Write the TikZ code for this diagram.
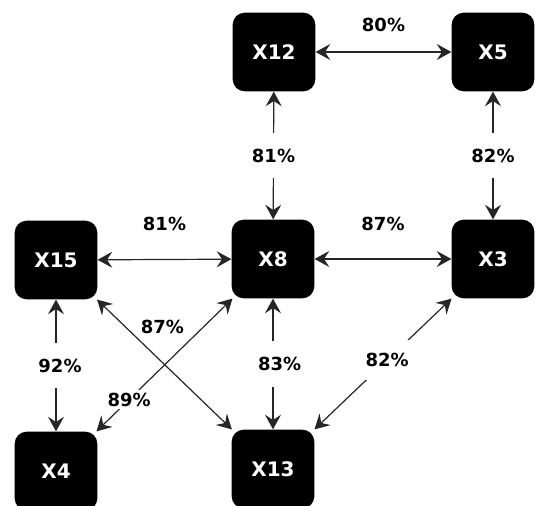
\documentclass[tikz,border=0pt]{standalone}
\usepackage{fontspec}
\setmainfont{DejaVu Sans}
\usetikzlibrary{arrows.meta}
\tikzset{
  knoten/.style={fill=black, rounded corners=9pt, minimum width=62pt, minimum height=59pt,
    text=white, font=\bfseries\fontsize{15}{15}\selectfont},
  wert/.style={font=\bfseries\fontsize{13.5}{13.5}\selectfont, inner sep=2pt},
  pfeil/.style={{Stealth[length=11pt,width=12pt,inset=4pt]}-{Stealth[length=11pt,width=12pt,inset=4pt]}, line width=0.9pt, draw=black!85}
}
\begin{document}
\begin{tikzpicture}[x=0.75pt,y=-0.75pt]
		% Rahmen
		\useasboundingbox (0,0) rectangle (536,506);
		% Knoten
		\node [knoten] (x12) at (274,52) {X12};
		\node [knoten] (x5) at (493,52) {X5};
		\node [knoten] (x15) at (56,260) {X15};
		\node [knoten] (x8) at (273,259) {X8};
		\node [knoten] (x3) at (493,259) {X3};
		\node [knoten] (x4) at (56,471) {X4};
		\node [knoten] (x13) at (273,469) {X13};
		% waagrecht
		\draw [pfeil] (x12) -- node [wert, above=13pt] {80\%} (x5);
		\draw [pfeil] (x15) -- node [wert, above=19pt] {81\%} (x8);
		\draw [pfeil] (x8) -- node [wert, above=19pt] {87\%} (x3);
		% senkrecht
		\draw [pfeil] (x12) -- node [wert, fill=white, minimum height=34pt] {81\%} (x8);
		\draw [pfeil] (x5) -- node [wert, fill=white, minimum height=34pt] {82\%} (x3);
		\draw [pfeil] (x15) -- node [wert, fill=white, minimum height=34pt, xshift=3pt] {92\%} (x4);
		\draw [pfeil] (x8) -- node [wert, fill=white, minimum height=34pt, xshift=5pt] {83\%} (x13);
		% schraeg
		\draw [pfeil] (x15) -- node [wert, pos=0.3, right, yshift=9pt] {87\%} (x13);
		\draw [pfeil] (x4) -- node [wert, pos=0.24, fill=white] {89\%} (x8);
		\draw [pfeil] (x3) -- node [wert, pos=0.47, fill=white, minimum height=30pt] {82\%} (x13);
\end{tikzpicture}
\end{document}
